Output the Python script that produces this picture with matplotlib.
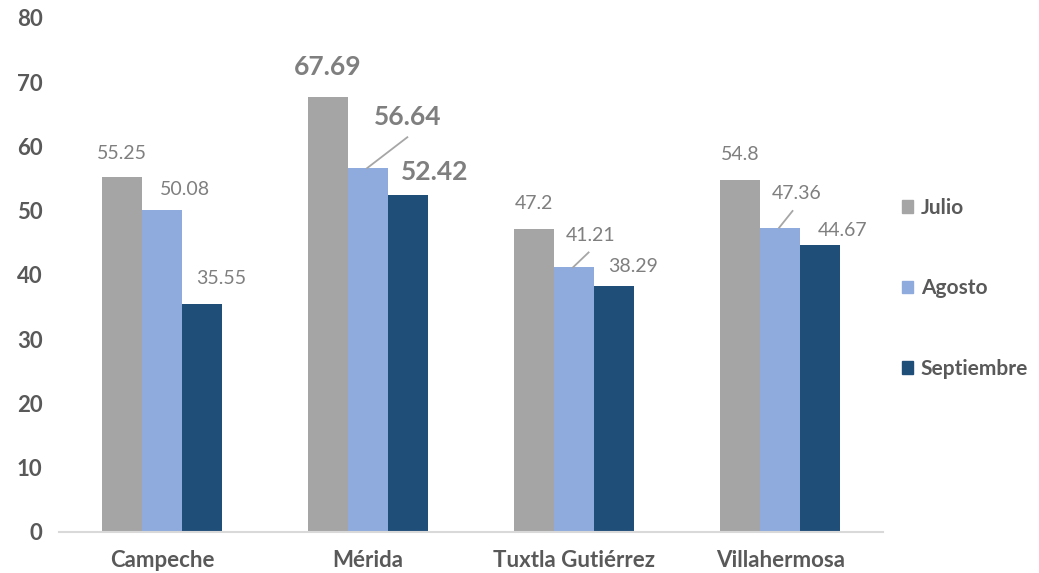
import numpy as np
import matplotlib.pyplot as plt
from matplotlib.patches import Patch

plt.rcParams['font.family'] = ['Lato', 'DejaVu Sans']

# data
ciudades = ['Campeche', 'Mérida', 'Tuxtla Gutiérrez', 'Villahermosa']
meses = ['Julio', 'Agosto', 'Septiembre']
julio = [55.25, 67.69, 47.2, 54.8]
agosto = [50.08, 56.64, 41.21, 47.36]
septiembre = [35.55, 52.42, 38.29, 44.67]
yticks = [0, 10, 20, 30, 40, 50, 60, 70, 80]

colores = ['#a5a5a5', '#8faadc', '#1f4e79']
series = [julio, agosto, septiembre]

# label offsets (dx, dy) in data units, keyed by (series, city)
offs = {
    (0, 0): (0.0, 3.6), (1, 0): (0.11, 3.3), (2, 0): (0.09, 3.9),
    (0, 1): (0.0, 4.7), (1, 1): (0.19, 7.9), (2, 1): (0.13, 3.6),
    (0, 2): (0.0, 4.0), (1, 2): (0.08, 5.0), (2, 2): (0.09, 3.0),
    (0, 3): (0.0, 3.9), (1, 3): (0.08, 5.4), (2, 3): (0.107, 2.3),
}
# leader lines (series, city) -> end offset from bar top
leaders = {(1, 1): (0.195, 4.8), (1, 2): (0.075, 2.3), (1, 3): (0.065, 2.6)}

fig = plt.figure(figsize=(10.39, 5.73), dpi=100)
ax = fig.add_axes([0.057, 0.0716, 0.793, 0.897])

x = np.arange(len(ciudades))
w = 0.195
gris = '#7f7f7f'
for s, (vals, col) in enumerate(zip(series, colores)):
    xs = x + (s - 1) * w
    ax.bar(xs, vals, width=w, color=col, zorder=2)
    for i, v in enumerate(vals):
        dx, dy = offs[(s, i)]
        if i == 1:
            ax.text(xs[i] + dx, v + dy, f'{v:g}', ha='center', va='center',
                    fontsize=19, fontweight='bold', color=gris)
        else:
            ax.text(xs[i] + dx, v + dy, f'{v:g}', ha='center', va='center',
                    fontsize=14, color=gris)
        if (s, i) in leaders:
            lx, ly = leaders[(s, i)]
            ax.plot([xs[i] - 0.005, xs[i] + lx - 0.005], [v, v + ly],
                    color='#a6a6a6', lw=1.3, zorder=3)

ax.set_xlim(-0.5, 3.5)
ax.set_ylim(0, 80)
ax.set_yticks(yticks)
ax.set_xticks(x)
ax.set_xticklabels(ciudades)
for sp in ['top', 'right', 'left']:
    ax.spines[sp].set_visible(False)
ax.spines['bottom'].set_color('#d9d9d9')
ax.spines['bottom'].set_linewidth(1.5)
ax.tick_params(axis='both', length=0, labelcolor='#595959', labelsize=16)
ax.tick_params(axis='x', pad=13)
ax.tick_params(axis='y', pad=12)
for lab in ax.get_xticklabels() + ax.get_yticklabels():
    lab.set_fontweight('bold')

handles = [Patch(color=c, label=m) for c, m in zip(colores, meses)]
leg = fig.legend(handles=handles, loc='center left', bbox_to_anchor=(0.850, 0.497),
                 frameon=False, fontsize=15, handlelength=0.55, handleheight=0.55,
                 handletextpad=0.35, labelspacing=2.9)
for t in leg.get_texts():
    t.set_color('#595959')
    t.set_fontweight('bold')

fig.savefig('out.png', dpi=100)
